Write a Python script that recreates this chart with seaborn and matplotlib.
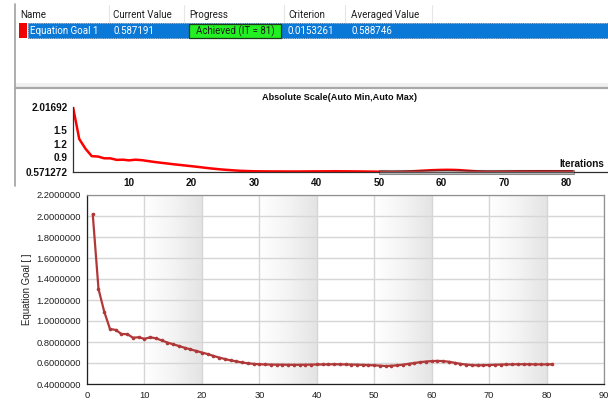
import numpy as np
import pandas as pd
import matplotlib
matplotlib.use("Agg")
import matplotlib.pyplot as plt
import seaborn as sns
from matplotlib.patches import Rectangle
from matplotlib.ticker import MultipleLocator, FuncFormatter
from matplotlib.colors import LinearSegmentedColormap

# ---------------- data ----------------
iterations = list(range(1, 82))
goal_values = [
    2.01692, 1.305, 1.089, 0.924, 0.915, 0.876, 0.875, 0.841, 0.845, 0.830,
    0.845, 0.835, 0.815, 0.795, 0.778, 0.762, 0.745, 0.730, 0.715, 0.700,
    0.685, 0.668, 0.652, 0.638, 0.625, 0.615, 0.605, 0.597, 0.592, 0.588,
    0.586, 0.585, 0.584, 0.584, 0.583, 0.583, 0.583, 0.584, 0.585, 0.586,
    0.586, 0.587, 0.588, 0.587, 0.586, 0.585, 0.584, 0.582, 0.580, 0.578,
    0.575, 0.5713, 0.574, 0.578, 0.584, 0.592, 0.600, 0.608, 0.614, 0.618,
    0.620, 0.618, 0.612, 0.602, 0.592, 0.585, 0.580, 0.578, 0.579, 0.581,
    0.583, 0.585, 0.586, 0.587, 0.588, 0.588, 0.588, 0.587, 0.587, 0.587,
    0.587191,
]
table_headers = ["Name", "Current Value", "Progress", "Criterion", "Averaged Value"]
table_row = ["Equation Goal 1", "0.587191", "Achieved (IT = 81)", "0.0153261", "0.588746"]
mini_title = "Absolute Scale(Auto Min,Auto Max)"
mini_yticks = [0.571272, 0.9, 1.2, 1.5, 2.01692]
mini_ytick_labels = ["0.571272", "0.9", "1.2", "1.5", "2.01692"]
mini_xticks = [10, 20, 30, 40, 50, 60, 70, 80]
main_ylabel = "Equation Goal [ ]"

df = pd.DataFrame({"Iteration": iterations, "Goal": goal_values})

W, H = 608, 401
fig = plt.figure(figsize=(W / 100, H / 100), dpi=100)
sns.set_style("white")
plt.rcParams["font.family"] = ["Liberation Sans", "DejaVu Sans"]


def fx(px):
    return px / W


def fy(py):
    return 1 - py / H


# ---------------- table panel (figure coordinates) ----------------
ui_font = ["Roboto", "DejaVu Sans"]
ov = fig.add_axes([0, 0, 1, 1], zorder=-5)
ov.set_xlim(0, W)
ov.set_ylim(H, 0)
ov.axis("off")

# left border of panels
ov.plot([15, 15], [4, 186], color="#A0A0A0", lw=1.2)
# header separators
for sx in [109, 184, 284, 345, 432]:
    ov.plot([sx, sx], [5, 22], color="#E6E6E6", lw=0.8)
header_x = [20, 113, 189, 288, 351]
for hx, txt in zip(header_x, table_headers):
    ov.text(hx, 15.5, txt, fontsize=7.0, family=ui_font, color="#1E1E1E", va="center", ha="left")
# selected row
ov.add_patch(Rectangle((28, 23), W - 28, 15, facecolor="#0A78D7", edgecolor="#3A5A7A", lw=0.6,
                       linestyle=":"))
ov.add_patch(Rectangle((19, 23), 8, 15, facecolor="#F00000", edgecolor="none"))
ov.add_patch(Rectangle((189, 24), 92, 14, facecolor="#22F022", edgecolor="#1A3A1A", lw=0.9))
row_x = [30, 113, 235, 288, 351]
for i, (rx, txt) in enumerate(zip(row_x, table_row)):
    ov.text(rx, 31.5, txt, fontsize=7.0, family=ui_font,
            color="#1A1A1A" if i == 2 else "white",
            va="center", ha="center" if i == 2 else "left")
# table bottom separator
ov.add_patch(Rectangle((15, 83), W - 15, 4, facecolor="#F0F0F0", edgecolor="none"))
ov.plot([15, W], [88, 88], color="#A8A8A8", lw=1.6)

# ---------------- mini convergence panel ----------------
mini_font = ["Liberation Sans Narrow", "Liberation Sans"]
x_left_px, x_right_px = 73, 607
px_per_unit = (565 - 128) / 70.0
xmax = 1 + (x_right_px - x_left_px) / px_per_unit
ax1 = fig.add_axes([fx(x_left_px), fy(172), fx(x_right_px - x_left_px), (172 - 107) / H])
sns.lineplot(data=df, x="Iteration", y="Goal", ax=ax1, color="#FF0000", lw=1.8)
ax1.set_xlim(1, xmax)
ax1.set_ylim(min(mini_yticks), max(mini_yticks))
ax1.set_xlabel("")
ax1.set_ylabel("")
ax1.patch.set_alpha(0)
for s in ["top", "right"]:
    ax1.spines[s].set_visible(False)
for s in ["left", "bottom"]:
    ax1.spines[s].set_color("#303030")
    ax1.spines[s].set_linewidth(0.9)
ax1.set_yticks(mini_yticks)
ax1.set_yticklabels(mini_ytick_labels)
ax1.set_xticks(mini_xticks)
ax1.tick_params(axis="y", length=0, pad=4, labelsize=7.2, labelcolor="#101010")
ax1.tick_params(axis="x", length=2, pad=2.5, labelsize=7.2, labelcolor="#101010", color="#303030")
for lab in ax1.get_xticklabels() + ax1.get_yticklabels():
    lab.set_family(mini_font)
    lab.set_fontweight("bold")
ax1.add_patch(Rectangle((50, 0.527), 31.2, 0.089, facecolor="#808080", alpha=0.45,
                        edgecolor="#202020", lw=0.8, clip_on=False, zorder=5))
ax1.text(604, 164, "Iterations", transform=ov.transData, fontsize=7.2, family=mini_font,
         fontweight="bold", ha="right", va="center", color="#101010")
ov.text(339, 97, mini_title, fontsize=6.6, family=mini_font, fontweight="bold",
        ha="center", va="center", color="#101010")

# ---------------- main chart ----------------
ax2 = fig.add_axes([fx(87), fy(384), fx(604 - 87), (384 - 195) / H])
# alternating gradient bands
cmap = LinearSegmentedColormap.from_list("band", ["#FFFFFF", "#F4F4F4", "#E4E4E4"])
grad = np.linspace(0, 1, 200).reshape(1, -1)
for b0 in [10, 30, 50, 70]:
    ax2.imshow(grad, extent=[b0, b0 + 10, 0.4, 2.2], aspect="auto", cmap=cmap,
               vmin=0, vmax=1, zorder=0, interpolation="bilinear")
sns.lineplot(data=df, x="Iteration", y="Goal", ax=ax2, color="#B03838", lw=1.6,
             marker="o", markersize=2.6, markeredgewidth=0, zorder=3)
ax2.set_xlim(0, 90)
ax2.set_ylim(0.4, 2.2)
ax2.xaxis.set_major_locator(MultipleLocator(10))
ax2.xaxis.set_minor_locator(MultipleLocator(2))
ax2.yaxis.set_major_locator(MultipleLocator(0.2))
ax2.yaxis.set_minor_locator(MultipleLocator(0.04))
ax2.yaxis.set_major_formatter(FuncFormatter(lambda v, p: f"{v:.7f}"))
ax2.grid(True, which="major", color="#D6D6D6", lw=1.0, zorder=1)
ax2.set_axisbelow(True)
ax2.tick_params(axis="both", which="major", direction="out", length=3, width=0.8,
                color="#202020", labelsize=6.7, labelcolor="#202020", pad=1.5)
ax2.tick_params(axis="both", which="minor", direction="out", length=2, width=0.6, color="#202020")
ax2.tick_params(axis="x", which="major", pad=2)
ax2.set_xlabel("")
ax2.set_ylabel(main_ylabel, fontsize=6.9, color="#202020", labelpad=3)
ax2.spines["left"].set_color("#202020")
ax2.spines["bottom"].set_color("#202020")
ax2.spines["top"].set_color("#909090")
ax2.spines["right"].set_color("#909090")
for s in ax2.spines.values():
    s.set_linewidth(0.9)

fig.savefig("out.png", dpi=100)
